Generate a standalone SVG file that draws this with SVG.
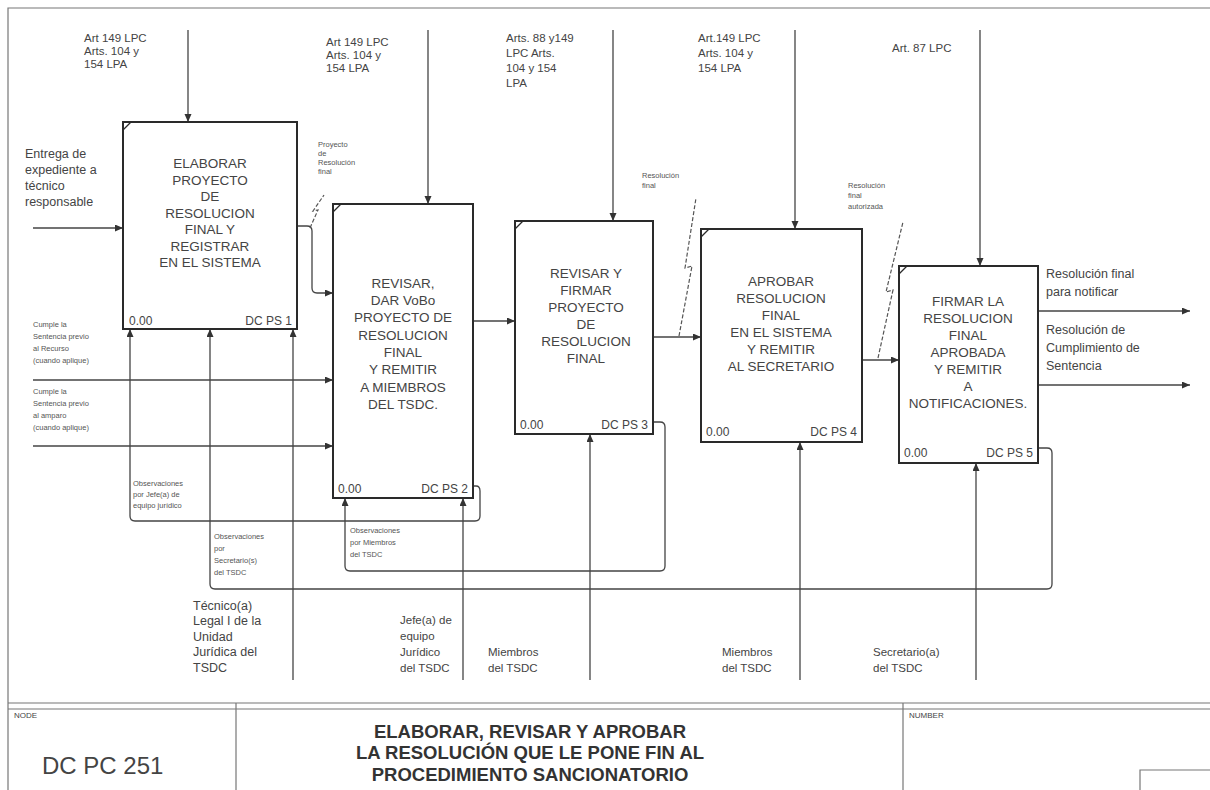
<svg xmlns="http://www.w3.org/2000/svg" width="1210" height="790" viewBox="0 0 1210 790">
<style>
text{font-family:"Liberation Sans",Arial,sans-serif;fill:#444}
.box{fill:#fff;stroke:#2a2a2a;stroke-width:2}
.cm{stroke:#2a2a2a;stroke-width:1.2}
.bt{font-size:13.5px;text-anchor:middle}
.num{font-size:12px}
.end{text-anchor:end}
.lbl{font-size:11.5px}
.out{font-size:12.5px}
.tiny{font-size:7.5px;fill:#555}
.ttl{font-size:18.5px;font-weight:bold;text-anchor:middle;fill:#333}
.ln{fill:none;stroke:#444;stroke-width:1.3}
.sq{fill:none;stroke:#555;stroke-width:1.2;stroke-dasharray:4 2}
.fr{fill:none;stroke:#777;stroke-width:1.2}
</style>
<defs>
<marker id="ah" markerWidth="9" markerHeight="8" refX="8" refY="3.5" orient="auto" markerUnits="userSpaceOnUse">
<path d="M0,0 L8,3.5 L0,7 z" fill="#333"/>
</marker>
</defs>
<rect width="1210" height="790" fill="#fff"/>
<g id="frame">
<path class="fr" d="M8,790 L8,8 L1210,8"/>
<path class="fr" d="M8,703 L1210,703 M8,709 L1210,709 M236,703 L236,790 M903,703 L903,790 M1140,790 L1140,770 L1210,770"/>
<text x="14" y="718" style="font-size:8px">NODE</text>
<text x="909" y="718" style="font-size:8px">NUMBER</text>
<text x="42" y="774" style="font-size:24px">DC PC 251</text>
<text class="ttl" x="530" y="738">ELABORAR, REVISAR Y APROBAR</text>
<text class="ttl" x="530" y="759">LA RESOLUCIÓN QUE LE PONE FIN AL</text>
<text class="ttl" x="530" y="781">PROCEDIMIENTO SANCIONATORIO</text>
</g>
<g id="connectors">
<path class="ln" d="M188,30 L188,122" marker-end="url(#ah)"/>
<path class="ln" d="M428,30 L428,204" marker-end="url(#ah)"/>
<path class="ln" d="M613,30 L613,221" marker-end="url(#ah)"/>
<path class="ln" d="M795,30 L795,229" marker-end="url(#ah)"/>
<path class="ln" d="M980,30 L980,266" marker-end="url(#ah)"/>
<path class="ln" d="M33,228 L123,228" marker-end="url(#ah)"/>
<path class="ln" d="M33,380 L333,380" marker-end="url(#ah)"/>
<path class="ln" d="M33,446 L333,446" marker-end="url(#ah)"/>
<path class="ln" d="M297,226 L307,226 Q312,226 312,231 L312,288 Q312,293 317,293 L333,293" marker-end="url(#ah)"/>
<path class="sq" d="M310,228 L318,210 L313,211 L324,195"/>
<path class="ln" d="M473,321 L515,321" marker-end="url(#ah)"/>
<path class="ln" d="M653,337 L701,337" marker-end="url(#ah)"/>
<path class="sq" d="M679,336 L692,266 L685,268 L696,198"/>
<path class="ln" d="M862,360 L899,360" marker-end="url(#ah)"/>
<path class="sq" d="M878,358 L893,290 L886,292 L903,222"/>
<path class="ln" d="M1038,311 L1190,311" marker-end="url(#ah)"/>
<path class="ln" d="M1038,385 L1190,385" marker-end="url(#ah)"/>
<path class="ln" d="M473,486 L476,486 Q480,486 480,491 L480,516 Q480,521 475,521 L135,521 Q130,521 130,516 L130,329" marker-end="url(#ah)"/>
<path class="ln" d="M653,422 L660,422 Q665,422 665,427 L665,566 Q665,571 660,571 L350,571 Q345,571 345,566 L345,498" marker-end="url(#ah)"/>
<path class="ln" d="M1038,448 L1047,448 Q1052,448 1052,453 L1052,584 Q1052,589 1047,589 L215,589 Q210,589 210,584 L210,329" marker-end="url(#ah)"/>
<path class="ln" d="M293,680 L293,329" marker-end="url(#ah)"/>
<path class="ln" d="M463,680 L463,498" marker-end="url(#ah)"/>
<path class="ln" d="M590,680 L590,434" marker-end="url(#ah)"/>
<path class="ln" d="M800,680 L800,442" marker-end="url(#ah)"/>
<path class="ln" d="M976,680 L976,463" marker-end="url(#ah)"/>
</g>
<g id="labels">
<text class="lbl" x="84" y="42">Art 149 LPC</text>
<text class="lbl" x="84" y="55">Arts. 104 y</text>
<text class="lbl" x="84" y="68">154 LPA</text>
<text class="lbl" x="326" y="46">Art 149 LPC</text>
<text class="lbl" x="326" y="59">Arts. 104 y</text>
<text class="lbl" x="326" y="72">154 LPA</text>
<text class="lbl" x="506" y="42">Arts. 88 y149</text>
<text class="lbl" x="506" y="57">LPC Arts.</text>
<text class="lbl" x="506" y="72">104 y 154</text>
<text class="lbl" x="506" y="87">LPA</text>
<text class="lbl" x="698" y="42">Art.149 LPC</text>
<text class="lbl" x="698" y="57">Arts. 104 y</text>
<text class="lbl" x="698" y="72">154 LPA</text>
<text class="lbl" x="892" y="52">Art. 87 LPC</text>
<text class="out" x="25" y="158">Entrega de</text>
<text class="out" x="25" y="174">expediente a</text>
<text class="out" x="25" y="190">técnico</text>
<text class="out" x="25" y="206">responsable</text>
<text class="tiny" x="318" y="147">Proyecto</text>
<text class="tiny" x="318" y="156">de</text>
<text class="tiny" x="318" y="165">Resolución</text>
<text class="tiny" x="318" y="174">final</text>
<text class="tiny" x="642" y="178">Resolución</text>
<text class="tiny" x="642" y="188">final</text>
<text class="tiny" x="848" y="188">Resolución</text>
<text class="tiny" x="848" y="198">final</text>
<text class="tiny" x="848" y="209">autorizada</text>
<text class="out" x="1046" y="278">Resolución final</text>
<text class="out" x="1046" y="296">para notificar</text>
<text class="out" x="1046" y="334">Resolución de</text>
<text class="out" x="1046" y="352">Cumplimiento de</text>
<text class="out" x="1046" y="370">Sentencia</text>
<text class="tiny" x="33" y="327">Cumple la</text>
<text class="tiny" x="33" y="339">Sentencia previo</text>
<text class="tiny" x="33" y="351">al Recurso</text>
<text class="tiny" x="33" y="363">(cuando aplique)</text>
<text class="tiny" x="33" y="394">Cumple la</text>
<text class="tiny" x="33" y="406">Sentencia previo</text>
<text class="tiny" x="33" y="418">al amparo</text>
<text class="tiny" x="33" y="430">(cuando aplique)</text>
<text class="tiny" x="133" y="486">Observaciones</text>
<text class="tiny" x="133" y="497">por Jefe(a) de</text>
<text class="tiny" x="133" y="508">equipo jurídico</text>
<text class="tiny" x="350" y="533">Observaciones</text>
<text class="tiny" x="350" y="545">por Miembros</text>
<text class="tiny" x="350" y="557">del TSDC</text>
<text class="tiny" x="214" y="539">Observaciones</text>
<text class="tiny" x="214" y="551">por</text>
<text class="tiny" x="214" y="563">Secretario(s)</text>
<text class="tiny" x="214" y="575">del TSDC</text>
<text class="out" x="193" y="610">Técnico(a)</text>
<text class="out" x="193" y="625">Legal I de la</text>
<text class="out" x="193" y="641">Unidad</text>
<text class="out" x="193" y="656">Jurídica del</text>
<text class="out" x="193" y="672">TSDC</text>
<text class="lbl" x="400" y="624">Jefe(a) de</text>
<text class="lbl" x="400" y="640">equipo</text>
<text class="lbl" x="400" y="656">Jurídico</text>
<text class="lbl" x="400" y="672">del TSDC</text>
<text class="lbl" x="488" y="656">Miembros</text>
<text class="lbl" x="488" y="672">del TSDC</text>
<text class="lbl" x="722" y="656">Miembros</text>
<text class="lbl" x="722" y="672">del TSDC</text>
<text class="lbl" x="873" y="656">Secretario(a)</text>
<text class="lbl" x="873" y="672">del TSDC</text>
</g>
<g id="node1">
<rect class="box" x="123" y="122" width="174" height="207"/>
<line class="cm" x1="123" y1="130" x2="131" y2="122"/>
<text class="bt" x="210" y="168">ELABORAR</text>
<text class="bt" x="210" y="185">PROYECTO</text>
<text class="bt" x="210" y="201">DE</text>
<text class="bt" x="210" y="218">RESOLUCION</text>
<text class="bt" x="210" y="234">FINAL Y</text>
<text class="bt" x="210" y="251">REGISTRAR</text>
<text class="bt" x="210" y="267">EN EL SISTEMA</text>
<text class="num" x="129" y="325">0.00</text>
<text class="num end" x="292" y="325">DC PS 1</text>
</g>
<g id="node2">
<rect class="box" x="333" y="204" width="140" height="294"/>
<line class="cm" x1="333" y1="212" x2="341" y2="204"/>
<text class="bt" x="403" y="288">REVISAR,</text>
<text class="bt" x="403" y="305">DAR VoBo</text>
<text class="bt" x="403" y="322">PROYECTO DE</text>
<text class="bt" x="403" y="340">RESOLUCION</text>
<text class="bt" x="403" y="357">FINAL</text>
<text class="bt" x="403" y="374">Y REMITIR</text>
<text class="bt" x="403" y="392">A MIEMBROS</text>
<text class="bt" x="403" y="409">DEL TSDC.</text>
<text class="num" x="338" y="493">0.00</text>
<text class="num end" x="468" y="493">DC PS 2</text>
</g>
<g id="node3">
<rect class="box" x="515" y="221" width="138" height="213"/>
<line class="cm" x1="515" y1="229" x2="523" y2="221"/>
<text class="bt" x="586" y="278">REVISAR Y</text>
<text class="bt" x="586" y="295">FIRMAR</text>
<text class="bt" x="586" y="312">PROYECTO</text>
<text class="bt" x="586" y="329">DE</text>
<text class="bt" x="586" y="346">RESOLUCION</text>
<text class="bt" x="586" y="363">FINAL</text>
<text class="num" x="520" y="429">0.00</text>
<text class="num end" x="648" y="429">DC PS 3</text>
</g>
<g id="node4">
<rect class="box" x="701" y="229" width="161" height="213"/>
<line class="cm" x1="701" y1="237" x2="709" y2="229"/>
<text class="bt" x="781" y="286">APROBAR</text>
<text class="bt" x="781" y="303">RESOLUCION</text>
<text class="bt" x="781" y="320">FINAL</text>
<text class="bt" x="781" y="337">EN EL SISTEMA</text>
<text class="bt" x="781" y="354">Y REMITIR</text>
<text class="bt" x="781" y="371">AL SECRETARIO</text>
<text class="num" x="706" y="436">0.00</text>
<text class="num end" x="857" y="436">DC PS 4</text>
</g>
<g id="node5">
<rect class="box" x="899" y="266" width="139" height="197"/>
<line class="cm" x1="899" y1="274" x2="907" y2="266"/>
<text class="bt" x="968" y="306">FIRMAR LA</text>
<text class="bt" x="968" y="323">RESOLUCION</text>
<text class="bt" x="968" y="340">FINAL</text>
<text class="bt" x="968" y="357">APROBADA</text>
<text class="bt" x="968" y="374">Y REMITIR</text>
<text class="bt" x="968" y="391">A</text>
<text class="bt" x="968" y="408">NOTIFICACIONES.</text>
<text class="num" x="904" y="457">0.00</text>
<text class="num end" x="1033" y="457">DC PS 5</text>
</g>
</svg>
